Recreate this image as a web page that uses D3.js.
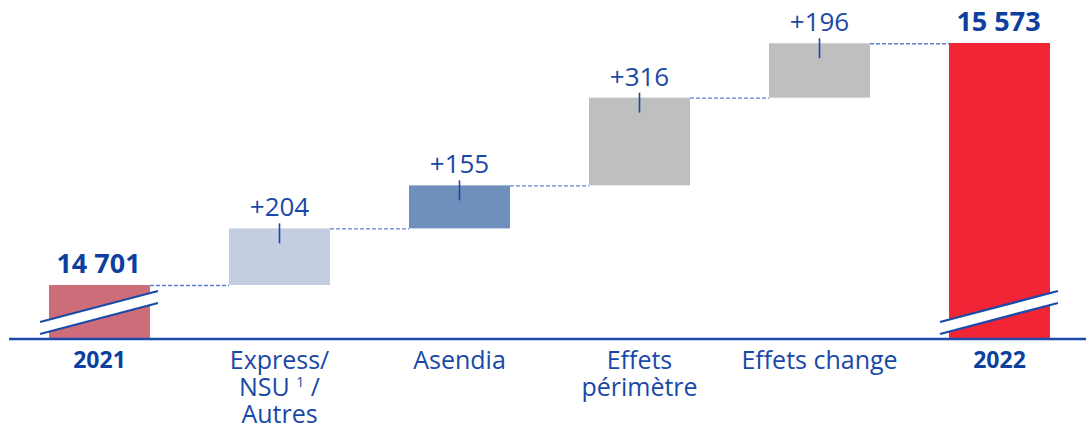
<!DOCTYPE html>
<html>
<head>
<meta charset="utf-8">
<script src="https://cdn.jsdelivr.net/npm/d3@7"></script>
<style>
  html, body { margin: 0; padding: 0; background: #fff; }
  svg { display: block; }
</style>
</head>
<body>
<div id="chart"></div>
<script>
// ---- data ----
const categories = ["2021", "Express/NSU 1/Autres", "Asendia", "Effets périmètre", "Effets change", "2022"];
const categoryLines = [["2021"], ["Express/", "NSU |1| /", "Autres"], ["Asendia"], ["Effets", "périmètre"], ["Effets change"], ["2022"]];
const values = [14701, 204, 155, 316, 196, 15573];
const kinds = ["total", "delta", "delta", "delta", "delta", "total"];
const valueLabels = ["14 701", "+204", "+155", "+316", "+196", "15 573"];
const barColors = ["#cc6d79", "#c3cee2", "#6f8fbc", "#bfbfbf", "#bfbfbf", "#f22536"];

const W = 1086, H = 428;
const baseY = 339;
const blue = "#0d3f9f";
const textBlue = "#1a48a6";

const svg = d3.select("#chart").append("svg").attr("width", W).attr("height", H);

const x = d3.scaleBand().domain(categories).range([9.5, 1089.5]).paddingInner(0.439).paddingOuter(0.2195);
const y = d3.scaleLinear().domain([14506.4, 15727.9]).range([baseY, 0]);

// compute waterfall
let cum = 0;
const bars = categories.map((c, i) => {
  let y0, y1;
  if (kinds[i] === "total") { y0 = y.domain()[0]; y1 = values[i]; cum = values[i]; }
  else { y0 = cum; y1 = cum + values[i]; cum = y1; }
  return { c, i, y0, y1, level: cum };
});

// connectors
const conn = svg.append("g");
for (let i = 0; i < bars.length - 1; i++) {
  conn.append("line")
    .attr("x1", x(bars[i].c) + x.bandwidth())
    .attr("x2", x(bars[i + 1].c))
    .attr("y1", y(bars[i].level) + 0.5)
    .attr("y2", y(bars[i].level) + 0.5)
    .attr("stroke", "#5f82c6")
    .attr("stroke-width", 1.4)
    .attr("stroke-dasharray", "4,2");
}

// bars
svg.append("g").selectAll("rect").data(bars).join("rect")
  .attr("x", d => x(d.c))
  .attr("width", x.bandwidth())
  .attr("y", d => y(d.y1))
  .attr("height", d => y(d.y0) - y(d.y1))
  .attr("fill", (d, i) => barColors[i]);

// tick marks on delta bars
svg.append("g").selectAll("line").data(bars.filter(d => kinds[d.i] === "delta")).join("line")
  .attr("x1", d => x(d.c) + x.bandwidth() / 2)
  .attr("x2", d => x(d.c) + x.bandwidth() / 2)
  .attr("y1", d => y(d.y1) - 5)
  .attr("y2", d => y(d.y1) + 15)
  .attr("stroke", "#1a48a6")
  .attr("stroke-width", 1.6);

// value labels
svg.append("g").selectAll("text").data(bars).join("text")
  .attr("x", d => x(d.c) + x.bandwidth() / 2 + (kinds[d.i] === "total" ? -1 : 0))
  .attr("y", d => y(d.y1) - (kinds[d.i] === "total" ? 11.5 : 12))
  .attr("text-anchor", "middle")
  .attr("font-family", "'Open Sans', sans-serif")
  .attr("font-size", d => kinds[d.i] === "total" ? 27 : 26)
  .attr("font-weight", d => kinds[d.i] === "total" ? 700 : 400)
  .attr("fill", d => kinds[d.i] === "total" ? blue : textBlue)
  .text(d => valueLabels[d.i]);

// axis baseline
svg.append("line")
  .attr("x1", 9).attr("x2", W)
  .attr("y1", baseY).attr("y2", baseY)
  .attr("stroke", "#1c4aa8").attr("stroke-width", 2.5);

// axis break marks on total bars
const breaks = svg.append("g");
bars.filter(d => kinds[d.i] === "total").forEach(d => {
  const xl = x(d.c) - 9, xr = x(d.c) + x.bandwidth() + 8;
  const upL = baseY - 17, upR = baseY - 48, loL = baseY - 5, loR = baseY - 36;
  breaks.append("polygon")
    .attr("points", `${xl},${upL} ${xr},${upR} ${xr},${loR} ${xl},${loL}`)
    .attr("fill", "#fff");
  breaks.append("line").attr("x1", xl).attr("y1", upL).attr("x2", xr).attr("y2", upR)
    .attr("stroke", "#1c4aa8").attr("stroke-width", 2.3);
  breaks.append("line").attr("x1", xl).attr("y1", loL).attr("x2", xr).attr("y2", loR)
    .attr("stroke", "#1c4aa8").attr("stroke-width", 2.3);
});

// category labels (one text element per line)
const cat = svg.append("g");
categories.forEach((c, i) => {
  const cx = x(c) + x.bandwidth() / 2;
  const isTotal = kinds[i] === "total";
  categoryLines[i].forEach((line, j) => {
    const t = cat.append("text")
      .attr("x", cx)
      .attr("y", (isTotal ? 368 : 369) + j * 27)
      .attr("text-anchor", "middle")
      .attr("font-family", "'Open Sans', sans-serif")
      .attr("font-size", isTotal ? 23 : 25)
      .attr("font-weight", isTotal ? 700 : 400)
      .attr("fill", isTotal ? blue : textBlue);
    const parts = line.split("|");
    if (parts.length === 3) {
      t.append("tspan").text(parts[0]);
      t.append("tspan").attr("font-size", 14).attr("dy", -9).text(parts[1]);
      t.append("tspan").attr("dy", 9).text(parts[2]);
    } else {
      t.text(line);
    }
  });
});
</script>
</body>
</html>
